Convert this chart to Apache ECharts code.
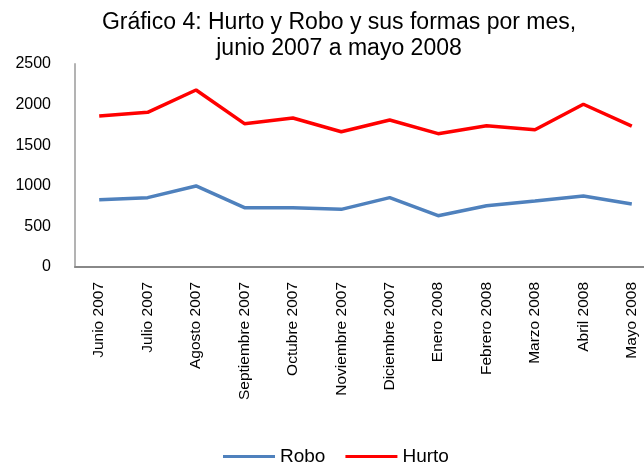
<!DOCTYPE html>
<html>
<head>
<meta charset="utf-8">
<script src="https://cdn.jsdelivr.net/npm/echarts@6/dist/echarts.min.js"></script>
<style>
  html, body { margin: 0; padding: 0; background: #fff; }
  #chart { width: 644px; height: 465px; }
</style>
</head>
<body>
<div id="chart"></div>
<script>
// datos
const meses = ['Junio 2007', 'Julio 2007', 'Agosto 2007', 'Septiembre 2007', 'Octubre 2007',
  'Noviembre 2007', 'Diciembre 2007', 'Enero 2008', 'Febrero 2008', 'Marzo 2008', 'Abril 2008', 'Mayo 2008'];
const robo = [829, 854, 998, 731, 731, 710, 854, 632, 755, 813, 874, 776];
const hurto = [1860, 1905, 2180, 1765, 1835, 1666, 1810, 1642, 1740, 1691, 2004, 1736];

const chart = echarts.init(document.getElementById('chart'));

const option = {
  animation: false,
  textStyle: { fontFamily: 'Liberation Sans, Arial, sans-serif', color: '#000' },
  title: {
    text: 'Gráfico 4: Hurto y Robo y sus formas por mes,\njunio 2007 a mayo 2008',
    left: 334,
    textAlign: 'center',
    top: 5,
    textStyle: { fontSize: 23, fontWeight: 'normal', lineHeight: 26, color: '#000' }
  },
  legend: {
    bottom: -6,
    left: 218,
    itemWidth: 52,
    itemHeight: 3,
    itemGap: 20,
    icon: 'rect',
    textStyle: { fontSize: 19, color: '#000' },
    data: ['Robo', 'Hurto']
  },
  grid: { left: 75, right: -12, top: 64, bottom: 198, containLabel: false, outerBoundsMode: 'none' },
  xAxis: {
    type: 'category',
    data: meses,
    boundaryGap: true,
    axisLine: { lineStyle: { color: '#888', width: 2 } },
    axisTick: { show: false },
    axisLabel: { rotate: 90, fontSize: 15.5, margin: 15, color: '#000', interval: 0 }
  },
  yAxis: {
    type: 'value',
    min: 0,
    max: 2500,
    interval: 500,
    splitLine: { show: false },
    axisLine: { show: true, lineStyle: { color: '#b3b3b3', width: 2 } },
    axisTick: { show: false },
    axisLabel: { fontSize: 16, margin: 24, color: '#000', formatter: v => String(v) }
  },
  series: [
    {
      name: 'Robo', type: 'line', data: robo, symbol: 'none',
      lineStyle: { color: '#4F81BD', width: 3.5 }, itemStyle: { color: '#4F81BD' }
    },
    {
      name: 'Hurto', type: 'line', data: hurto, symbol: 'none',
      lineStyle: { color: '#FF0000', width: 3.5 }, itemStyle: { color: '#FF0000' }
    }
  ]
};

chart.setOption(option);
window.addEventListener('resize', chart.resize);
</script>
</body>
</html>
